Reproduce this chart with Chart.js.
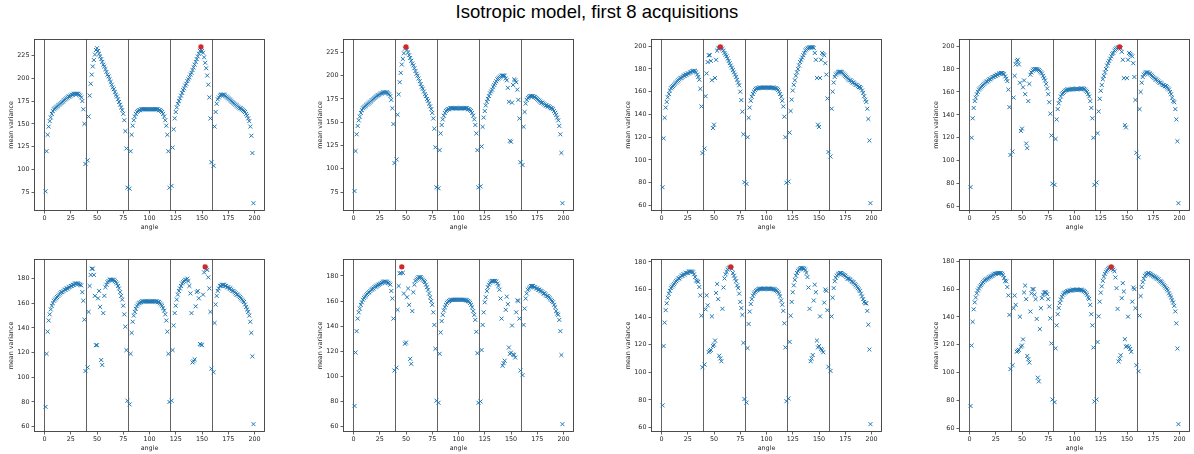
<!DOCTYPE html>
<html><head><meta charset="utf-8">
<script src="https://cdn.jsdelivr.net/npm/chart.js@4.4.1/dist/chart.umd.min.js"></script>
<style>
html,body{margin:0;padding:0;background:#fff;}
#fig{position:relative;width:1194px;height:454px;overflow:hidden;background:#fff;}
#title{position:absolute;left:0;width:1194px;top:3px;text-align:center;font-family:"Liberation Sans",Arial,sans-serif;font-size:18.5px;line-height:18.5px;color:#000;white-space:nowrap;}
canvas{position:absolute;}
</style></head><body>
<div id="fig"><div id="title">Isotropic model, first 8 acquisitions</div></div>
<script>
const angles = [1,2,3,4,5,6,7,8,9,10,11,12,13,14,15,16,17,18,19,20,21,22,23,24,25,26,27,28,29,30,31,32,33,34,35,36,37,38,39,
41,42,43,44,45,46,47,48,49,50,51,52,53,54,55,56,57,58,59,60,61,62,63,64,65,66,67,68,69,70,71,72,73,74,75,76,77,78,79,
81,82,83,84,85,86,87,88,89,90,91,92,93,94,95,96,97,98,99,100,101,102,103,104,105,106,107,108,109,110,111,112,113,114,115,116,117,118,119,
121,122,123,124,125,126,127,128,129,130,131,132,133,134,135,136,137,138,139,140,141,142,143,144,145,146,147,148,149,150,151,152,153,154,155,156,157,158,159,
161,162,163,164,165,166,167,168,169,170,171,172,173,174,175,176,177,178,179,180,181,182,183,184,185,186,187,188,189,190,191,192,193,194,195,196,197,198,199];

const acq1 = [76,120,138,147,153,157,161,164,166,167,168,169,170,171,172,173,174,175,176,177,178,179,180,180,181,182,182,183,183,183,183,183,182,181,179,175,166,150,106,
110,158,181,194,204,213,220,226,231,233,230,227,224,221,218,215,213,210,207,204,202,199,196,193,190,188,185,182,180,177,174,171,168,165,161,154,142,123,80,
79,120,138,148,154,158,161,163,164,165,165,166,166,166,166,166,166,166,166,166,166,166,166,166,166,166,166,166,165,165,164,163,161,158,154,148,138,120,80,
82,124,144,156,163,168,172,175,178,181,184,187,189,192,194,197,199,201,204,206,209,212,215,218,221,224,227,230,234.5,230,228,223,217,211,203,193,179,156,108,
104,147,163,172,177,179,181,182,182,182,182,181,180,179,178,177,176,175,174,173,172,171,170,169,168,167,167,166,165,164,163,161,159,156,153,147,137,118,63];

const acq2 = [76,119,137,146,152,156,160,163,165,166,167,168,169,170,171,172,173,174,175,176,177,178,179,179,180,181,181,182,182,182,182,182,181,180,178,174,165,148,106,
110,158,180,193,203,212,218,224,229,231,228,225,222,219,216,213,211,208,205,202,200,197,194,191,188,186,183,180,178,175,173,170,167,164,160,154,143,123,80,
79,120,138,147,153,157,160,162,163,164,164,165,165,165,165,165,165,165,165,165,165,165,165,165,165,165,165,165,164,164,163,162,160,157,153,147,138,120,80,
81,124,145,155,162,168,172,175,178,181,183,185,188,190,192,194,196,197,198,199,200,200,200,200,197,195,187,172,130,129,171,190,196,195,193,185,174,154,107,
104,145,161,170,174,176,177,178,178,178,178,177,177,176,175,174,173,172,171,171,170,169,168,168,167,167,166,165,165,164,162,160,158,155,152,146,137,117,63];

const acq3 = [76,119,137,146,151,155,158,161,163,164,165,166,167,168,169,170,171,172,172,173,174,174,175,175,176,176,177,177,178,178,178.5,178,177,175,173,170.5,162.5,147,106,
110,156,176,186,192,192,187,170,128,131,172,188,196,198,198.5,199.4,198.5,197.5,196,194,192.5,191,189,187,185,183,181,179,177,175,173,170.5,168,165.6,160,152.6,142.4,122.6,80.4,
79,120,137,146,152,155.5,158,160,161.5,162.5,163,163,163.5,163.5,163.5,163.5,163.5,163.5,163.5,163.5,163.5,163.5,163.5,163.5,163.5,163.5,163.5,163,163,162.5,161.5,160,158,155.5,152,147,138,120,80,
81,124,143,153,161,166,170,174,177,180,183,186,188,190,192,194,196,197,198,198.5,199,199,199,199,198.5,194,188,172,131,129,172,188,194,193,192,185,175,154,107,
103,145,160,168,173,175,176,177,177.5,177.5,177.5,177,176,175,174,173,172,171,170,170,169,168,168,167,166,166,165,164,164,163,161,159,156,153,151,145,136,117,62];

const acq4 = [77,120,137,146,152,155,158,160,162,163,164,165,166,167,168,169,169,170,171,171,172,173,173,174,174,175,175,176,176,176.5,176.5,176,175.5,173.5,171.5,169.4,162,146.7,105,
108,155,174,184,187,188,184,168,126,128,164,170,158,115,111,152,167,175,177,178.5,179.5,180,180,180,179.5,179,178,177,176,174,172,170,167,163,158,151,141,122,80,
79,119,136,145,150,153,156,158,159,160,161,161.5,162,162,162,162,162.5,162.5,162.5,162.5,162.5,162.5,162.5,162.5,162.5,163,163,163,162.5,162,161,160,158,156,152,146,137,120,79,
81,124,143,154,161,166,171,174,177,180,183,185,187,189,191,193,194,196,197,198,198.5,199,199.3,198,195,188,172,131,129,172,188,194,193,192,191,185,173,153,107,
103,145,160,168,173,175,176,177,177,177,176,176,175,174,173,172,171,171,170,169,168,168,167,166,166,165,165,164,163,162,160,158,155,152,151,145,136,117,63];

const acq5 = [76,119,137,146,151,155,158,160,162,163,164,165,166,167,168,169,169,170,171,171,172,172,173,173,174,174,175,175,176,176,176,176,175.5,175,174.5,169,162,146.7,105,
108,153,174,183,188,188,183,166,126,126,164,170,157,114,110,152,166,173,175,177,178,179,179,179,179,179,178,177,176,174,172,169,166,163,158,151,141,122,81,
78,119,136,145,150,153,155.5,157.5,159,160,160.5,161,161.5,161.5,161.5,161.5,161.5,161.5,161.5,161.5,161.5,161.5,161.5,161.5,161.5,161.5,161.5,161,161,160,159,158,156,154,151,146,137,119,80,
81,122,142,152,158,163,167,170,172,174,176,177,178,179,179,180,178,174,168,152,112,113,114.5,157.5,169,170,164,127,126.5,126,167,185,189.5,188,187,181,172,153,107,
104,144,159,166,170,172,174,174,175,175,175,174,174,173,173,172,172,171,170,170,169,168,167,167,166,165,164,163,162,161,159,157,155,153,150,145,136,117,62];

const acq6 = [76.5,119,136,146,151,154,157,159,161,162.5,163.5,164.5,165.5,166.5,167,168,169,169.5,170,171,171.5,172,172.5,173,173.5,174,174.5,175,175.5,175.5,175.5,175,174.5,174,173,168,162,146,104.7,
107,153,172,182,182.3,187.2,182.5,166,126,127,163,170,157,114,110,152,167,173,176,177,178,179,179,179,178,177,176,175,173,171,169,166,163,160,157,151,141,122,80.7,
79,118,135,144,149,152.5,155,157,158.5,159.5,160,160.5,161,161,161,161,161,161,161,161,161,161,161,161,161,161,160.5,160.5,160,159.5,158.5,157,155,152,149,145,135.5,118.5,79,
80,121,141,151,159,163,168,171,173,174.5,175.5,176,176,176,176,175.5,174,172,169,162,146,108.5,110.5,112.5,153,163.5,157.5,123,118,119,140.5,117.5,117,115,151,160.5,160,146,104.7,
101,141,154,162,166,169,170,171,172,172,172,171,171,170,170,169,169,168,168,167,166,166,165,164,164,163,162,161,160,159,157,155,152,150,149,145,136,117,62];

const acq7 = [76,119,136,145,150,154,157,159,161,162,163,164,165,166,167,168,168,169,170,170,171,171,172,172,172,173,173,173,173,172.5,171,169,166.5,166,165.5,161.8,155.8,141,103.6,
105.6,145.6,155.8,148.5,114.6,115.5,116.2,140.5,119,120,123,157.5,164,153,112,110,108,146,161.4,168,171,172.7,174.5,175.5,176,176.4,175,172,170,168,166,163,161,157,151,146.5,141.6,121.3,80.6,
78,117.5,135,144,149.5,153,155.5,157,158,159,159.5,160,160.5,160.5,160.5,160.5,160.5,160.5,160.5,160.5,160.5,160.5,160.5,160.5,160.5,160.5,160,160,159.5,159,158,157,155,152,149,144.5,135.5,118,79,
81,122,141,151,158,163,167,170,172,173.5,174.5,175,175.5,175.5,175.5,175,174,172,169,161.4,146,108,110,112.5,152,163.5,158,123,118,119,140.5,117,116,114.5,150.5,160,159,145,104,
101,140.5,154,161,166,168.5,170,171,171.5,172,172,171.5,171,170.5,170,169,168,168,167.5,167,166,165.5,165,164,163,162,161,160,159,157,155,153,151,150,150,144.5,134.5,116.5,62.4];

const acq8 = [76,119.5,136.5,145.5,150.5,154,157,159,160.5,162,163,164,165,166,166.5,167,167.5,168,168.5,169,169.5,170,170.5,171,171,171.5,171.5,171.5,171.5,171.5,171,170,168,166,165.5,161.5,155.5,141.5,102.5,
105.3,146.3,155.4,148.7,115,115.7,116.4,140.2,118.6,119.5,123.9,157.6,162.6,152.8,112,109.6,107.2,143.9,157,160,160,156,152.8,138.6,96.4,93.7,131.3,146.3,153.5,156,157.6,157.8,157.6,156.4,152.8,147.5,139,121,80.7,
78.8,117.5,134,142,146.5,150,152.5,154.5,156,157,157.5,158,158.5,158.5,159,159,159,159.5,159.5,159.5,159.5,159.5,159.5,159.5,159.5,159.5,159.5,159,158.5,158,157,156,154,153,148.7,142,134,118,79.3,
80.7,122,140.5,151,157.5,162,166,169,171,172.5,173.5,174.5,175,175.5,176,175,174,172.8,168.4,160.7,145.8,108,110,112.5,153.5,164.3,158.3,124,118.6,119,140.2,118.6,117,115,151,161.2,160,146.3,105.3,
101,141,155,161.5,165,167.5,169.5,170.5,171,171.5,171.5,171,170.5,170,169.5,169,168.5,168,167.5,167,166,165.5,165,164,163,162,161,160,159,157,155.5,154,152,150.4,148,144,135.4,117.3,63];

const xTicks = [0,25,50,75,100,125,150,175,200];
const yTicks225 = [75,100,125,150,175,200,225];
const yTicks200 = [60,80,100,120,140,160,180,200];
const yTicks180 = [60,80,100,120,140,160,180];
const boundaries = [0,40,80,120,160];

const allSeries = [acq1,acq2,acq3,acq4,acq5,acq6,acq7,acq8];
const allYTicks = [yTicks225,yTicks225,yTicks200,yTicks200,yTicks180,yTicks180,yTicks180,yTicks180];

Chart.defaults.font.family = '"DejaVu Sans", sans-serif';
Chart.defaults.font.size = 6.4;
Chart.defaults.color = '#262626';

const framePlugin = {
  id: 'frame',
  beforeDatasetsDraw(chart) {
    const {ctx, chartArea: a, scales: {x}} = chart;
    ctx.save();
    ctx.strokeStyle = 'rgba(60,60,60,0.8)';
    ctx.lineWidth = 1;
    boundaries.forEach(b => {
      const px = x.getPixelForValue(b);
      ctx.beginPath(); ctx.moveTo(px, a.top); ctx.lineTo(px, a.bottom); ctx.stroke();
    });
    ctx.restore();
  },
  afterDraw(chart) {
    const {ctx, chartArea: a} = chart;
    ctx.save();
    ctx.strokeStyle = '#3a3a3a';
    ctx.lineWidth = 0.9;
    ctx.strokeRect(Math.round(a.left) + 0.5, Math.round(a.top) + 0.5, Math.round(a.right - a.left) - 1, Math.round(a.bottom - a.top) - 1);
    ctx.restore();
  }
};

const fig = document.getElementById('fig');
const Y_W = 32, PAD_T = 6, PAD_R = 6, X_H = 26;

allSeries.forEach((vals, i) => {
  const col = i % 4, row = Math.floor(i / 4);
  const axL = Math.round(34.3 + col * 308.3);
  const axT = row === 0 ? 39 : 259;
  const axW = 231;
  const axH = row === 0 ? 172 : 173;
  const W = Y_W + axW + PAD_R, H = PAD_T + axH + X_H;
  const c = document.createElement('canvas');
  c.width = W; c.height = H;
  c.style.left = (axL - Y_W) + 'px'; c.style.top = (axT - PAD_T) + 'px';
  c.style.width = W + 'px'; c.style.height = H + 'px';
  fig.appendChild(c);

  const n = Math.min(vals.length, angles.length);
  const pts = [];
  let mi = 0;
  for (let k = 0; k < n; k++) {
    pts.push({x: angles[k], y: vals[k]});
    if (vals[k] > vals[mi]) mi = k;
  }
  const dmin = Math.min(...vals.slice(0, n)), dmax = Math.max(...vals.slice(0, n));
  const m = (dmax - dmin) * 0.05;
  const yt = allYTicks[i];

  new Chart(c, {
    type: 'scatter',
    data: {
      datasets: [
        {data: [{x: angles[mi], y: vals[mi]}], order: 0, pointStyle: 'circle', pointRadius: 2.6,
         backgroundColor: '#d62728', borderColor: '#d62728', borderWidth: 0},
        {data: pts, order: 1, pointStyle: 'crossRot', pointRadius: 2.8,
         borderColor: '#1f77b4', backgroundColor: 'rgba(0,0,0,0)', borderWidth: 1}
      ]
    },
    options: {
      responsive: false, animation: false, events: [],
      layout: {padding: {left: 0, top: PAD_T, right: PAD_R, bottom: 0}},
      plugins: {legend: {display: false}, tooltip: {enabled: false}},
      scales: {
        x: {
          type: 'linear', min: -10, max: 210,
          afterBuildTicks: s => { s.ticks = xTicks.map(v => ({value: v})); },
          afterFit: s => { s.height = X_H; },
          ticks: {padding: 1, maxRotation: 0, autoSkip: false, color: '#262626'},
          grid: {drawOnChartArea: false, drawTicks: true, tickLength: 2.5, tickColor: '#3a3a3a', tickWidth: 0.8},
          border: {display: false},
          title: {display: true, text: 'angle', color: '#262626', padding: {top: 0, bottom: 5.9}}
        },
        y: {
          type: 'linear', min: dmin - m, max: dmax + m,
          afterBuildTicks: s => { s.ticks = yt.map(v => ({value: v})); },
          afterFit: s => { s.width = Y_W; },
          ticks: {padding: 2, autoSkip: false, color: '#262626'},
          grid: {drawOnChartArea: false, drawTicks: true, tickLength: 2.5, tickColor: '#3a3a3a', tickWidth: 0.8},
          border: {display: false},
          title: {display: true, text: 'mean variance', color: '#262626', padding: {top: 5.8, bottom: 0}}
        }
      }
    },
    plugins: [framePlugin]
  });
});
</script>
</body></html>
